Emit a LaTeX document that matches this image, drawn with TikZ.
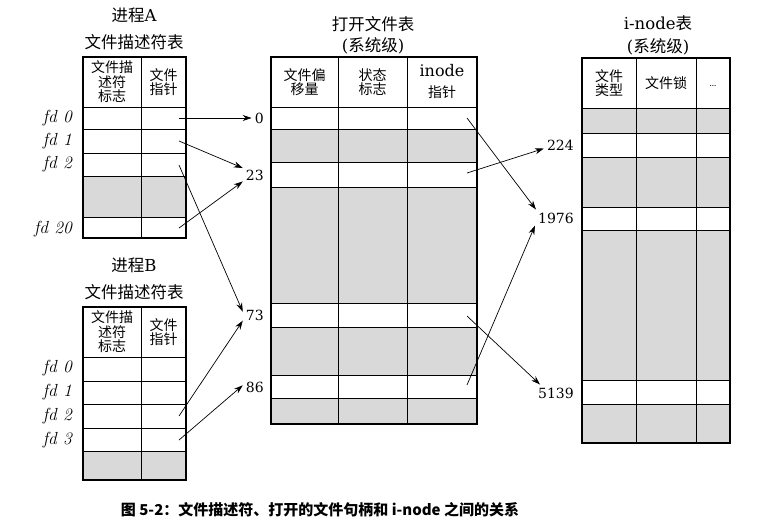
\documentclass[tikz,border=0pt]{standalone}
\usepackage{fontspec}
\newfontfamily\cjk{Noto Sans CJK SC}
\newfontfamily\numf{DejaVu Serif}
\usetikzlibrary{arrows.meta}
\begin{document}
\begin{tikzpicture}[x=1pt,y=-1pt,
  outer/.style={line width=1.3pt},
  inner/.style={line width=0.8pt},
  shade/.style={fill=black!15},
  hdr/.style={font=\cjk\fontsize{14}{14.5}\selectfont, align=center, inner sep=0pt},
  ttl/.style={font=\fontsize{16.5}{18}\selectfont, inner sep=0pt},
  fdl/.style={font=\fontsize{17.5}{18}\selectfont\itshape, anchor=east, inner sep=0pt},
  num/.style={font=\numf\fontsize{14}{16}\selectfont, inner sep=3pt, anchor=east},
  ptr/.style={line width=0.7pt, -{Stealth[length=9pt,width=6pt]}}
]
\useasboundingbox (0,0) rectangle (763,531);

% ---------------- Process A ----------------
\node[ttl] (tA1) at (134,15) {{\cjk 进程}{\numf A}};
\node[ttl] (tA2) at (134,42) {\cjk 文件描述符表};
\fill[shade] (83,176) rectangle (186,217);
\foreach \yy in {107,129,153,176,217} \draw[inner] (83,\yy) -- (186,\yy);
\draw[inner] (141,57) -- (141,238);
\draw[outer] (83,57) rectangle (186,238);
\node[hdr] (hA1) at (112,82) {文件描\\述符\\标志};
\node[hdr] (hA2) at (163.5,82) {文件\\指针};
\node[fdl] (fA0) at (72,118) {fd 0};
\node[fdl] (fA1) at (72,141) {fd 1};
\node[fdl] (fA2) at (72,164) {fd 2};
\node[fdl] (fA20) at (72,229) {fd 20};

% ---------------- Process B ----------------
\node[ttl] (tB1) at (134,265) {{\cjk 进程}{\numf B}};
\node[ttl] (tB2) at (134,292) {\cjk 文件描述符表};
\fill[shade] (83,451) rectangle (186,480);
\foreach \yy in {357,381,404,428,451} \draw[inner] (83,\yy) -- (186,\yy);
\draw[inner] (141,307) -- (141,480);
\draw[outer] (83,307) rectangle (186,480);
\node[hdr] (hB1) at (112,332) {文件描\\述符\\标志};
\node[hdr] (hB2) at (163.5,332) {文件\\指针};
\node[fdl] (fB0) at (72,368) {fd 0};
\node[fdl] (fB1) at (72,392) {fd 1};
\node[fdl] (fB2) at (72,416) {fd 2};
\node[fdl] (fB3) at (72,440) {fd 3};

% ---------------- Open file table ----------------
\node[ttl] (tO1) at (373,24) {\cjk 打开文件表};
\node[ttl] (tO2) at (373,46) {{\numf(}{\cjk 系统级}{\numf)}};
\fill[shade] (271,129) rectangle (477,162);
\fill[shade] (271,187) rectangle (477,303);
\fill[shade] (271,327) rectangle (477,375);
\fill[shade] (271,398) rectangle (477,424);
\foreach \yy in {107,129,162,187,303,327,375,398} \draw[inner] (271,\yy) -- (477,\yy);
\foreach \xx in {338,407} \draw[inner] (\xx,57) -- (\xx,424);
\draw[outer] (271,57) rectangle (477,424);
\node[hdr] (hO1) at (304.5,82) {文件偏\\移量};
\node[hdr] (hO2) at (372.5,82) {状态\\标志};
\node[inner sep=0pt, font=\numf\fontsize{16}{18}\selectfont] (hO3a) at (442,71) {inode};
\node[hdr] (hO3b) at (442,92) {指针};

% ---------------- i-node table ----------------
\node[ttl] (tI1) at (658,23) {{\numf i-node}{\cjk 表}};
\node[ttl] (tI2) at (658,47) {{\numf(}{\cjk 系统级}{\numf)}};
\fill[shade] (582,108) rectangle (730,133);
\fill[shade] (582,157) rectangle (730,207);
\fill[shade] (582,230) rectangle (730,380);
\fill[shade] (582,404) rectangle (730,443);
\foreach \yy in {108,133,157,207,230,380,404} \draw[inner] (582,\yy) -- (730,\yy);
\foreach \xx in {636,696} \draw[inner] (\xx,58) -- (\xx,443);
\draw[outer] (582,58) rectangle (730,443);
\node[hdr] (hI1) at (609,83) {文件\\类型};
\node[hdr] (hI2) at (666,83) {文件锁};
\node[inner sep=0pt, font=\fontsize{12}{12}\selectfont] (hI3) at (713,86) {\dots};

% ---------------- number labels ----------------
\node[num] (n0) at (267,118) {0};
\node[num] (n23) at (267,175) {23};
\node[num] (n73) at (267,315) {73};
\node[num] (n86) at (267,387) {86};
\node[num] (n224) at (577,145) {224};
\node[num] (n1976) at (577,218) {1976};
\node[num] (n5139) at (577,393) {5139};

% ---------------- pointer origins ----------------
\coordinate (pA0) at (179,118);
\coordinate (pA1) at (179,141);
\coordinate (pA2) at (179,165);
\coordinate (pA20) at (179,228);
\coordinate (pB2) at (179,416);
\coordinate (pB3) at (179,440);
\coordinate (pO0) at (467,118);
\coordinate (pO23) at (467,173);
\coordinate (pO73) at (467,316);
\coordinate (pO86) at (467,385);

% ---------------- pointers ----------------
\draw[ptr] (pA0) -- (n0.west);
\draw[ptr] (pA1) -- (n23.150);
\draw[ptr] (pA20) -- (n23.208);
\draw[ptr] (pA2) -- (n73.165);
\draw[ptr] (pB2) -- (n73.205);
\draw[ptr] (pB3) -- (n86.172);
\draw[ptr] (pO0) -- (n1976.157);
\draw[ptr] (pO23) -- (n224.192);
\draw[ptr] (pO73) -- (n5139.152);
\draw[ptr] (pO86) -- (n1976.200);

% ---------------- caption ----------------
\node[inner sep=0pt, font=\cjk\bfseries\fontsize{15}{17}\selectfont] (cap) at (320,510)
  {图 5-2：文件描述符、打开的文件句柄和 i-node 之间的关系};
\end{tikzpicture}
\end{document}
